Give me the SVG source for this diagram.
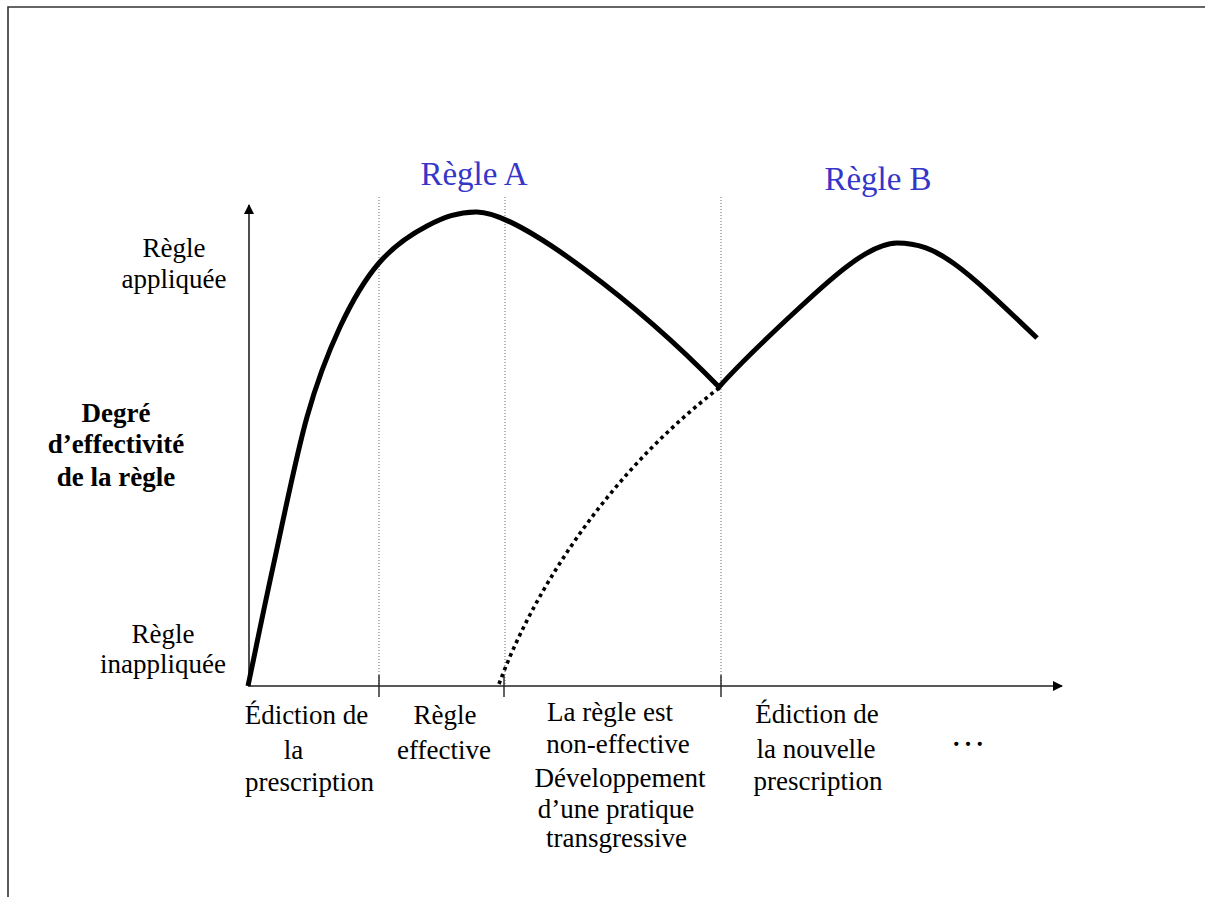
<svg xmlns="http://www.w3.org/2000/svg" width="1205" height="897" viewBox="0 0 1205 897">
<style>
text{font-family:"Liberation Serif","Times New Roman",serif;font-size:27px;fill:#000;text-anchor:middle}
.bold{font-weight:bold}
.title{font-size:33px;fill:#3535C8}
.axis{stroke:#222;stroke-width:1.6;fill:none}
.guide{stroke:#666;stroke-width:1;stroke-dasharray:1 2;fill:none}
.tick{stroke:#222;stroke-width:1.4}
.curve{stroke:#000;stroke-width:5;fill:none;stroke-linejoin:miter}
.dots{stroke:#000;stroke-width:3.6;fill:none;stroke-dasharray:3.6 3.8}
</style>
<defs>
<marker id="arr" viewBox="0 0 10 10" refX="9" refY="5" markerWidth="10" markerHeight="10" markerUnits="userSpaceOnUse" orient="auto">
<path d="M0,0 L10,5 L0,10 Z" fill="#000"/>
</marker>
</defs>
<rect width="1205" height="897" fill="#fff"/>
<path d="M8,897 V7 H1205" fill="none" stroke="#333" stroke-width="1.6"/>

<g id="guides">
<line class="guide" x1="379" y1="197" x2="379" y2="685"/>
<line class="guide" x1="505" y1="197" x2="505" y2="685"/>
<line class="guide" x1="721" y1="197" x2="721" y2="685"/>
</g>

<g id="axes">
<line class="axis" x1="249" y1="686" x2="249" y2="205" marker-end="url(#arr)"/>
<line class="axis" x1="248" y1="686" x2="1062" y2="686" marker-end="url(#arr)"/>
<line class="tick" x1="379" y1="675" x2="379" y2="697"/>
<line class="tick" x1="504" y1="675" x2="504" y2="697"/>
<line class="tick" x1="721" y1="675" x2="721" y2="697"/>
</g>

<g id="connectors">
<path id="curve-main" class="curve" d="M248,686 C256.3,646.3 263.2,611.8 273,567 C282.8,522.2 295.8,457 307,417 C318.2,377 328,352.7 340,327 C352,301.3 364.5,279.8 379,263 C393.5,246.2 410.7,234.5 427,226 C443.3,217.5 458.2,211.7 477,212 C520,212.3 640,306 719,387 C735,369 770,335 797,310 C826,283 868,243 897,243 C937,243 962,266 1037,338"/>
<path id="curve-practice" class="dots" d="M499,684 C530,600 600,480 719,388"/>
</g>

<g id="title-a"><text class="title" x="474" y="185">Règle A</text></g>
<g id="title-b"><text class="title" x="878" y="190">Règle B</text></g>

<g id="label-applied">
<text x="174" y="257">Règle</text>
<text x="174" y="288">appliquée</text>
</g>
<g id="label-y">
<text class="bold" x="116" y="422">Degré</text>
<text class="bold" x="116" y="453">d’effectivité</text>
<text class="bold" x="116" y="486">de la règle</text>
</g>
<g id="label-unapplied">
<text x="163" y="643">Règle</text>
<text x="163" y="673">inappliquée</text>
</g>

<g id="phase-1">
<text x="306.5" y="724">Édiction de</text>
<text x="293.5" y="759">la</text>
<text x="309.5" y="791">prescription</text>
</g>
<g id="phase-2">
<text x="445" y="724">Règle</text>
<text x="444" y="759">effective</text>
</g>
<g id="phase-3">
<text x="610" y="721">La règle est</text>
<text x="618" y="753">non-effective</text>
<text x="620" y="787">Développement</text>
<text x="616" y="818">d’une pratique</text>
<text x="616.5" y="847">transgressive</text>
</g>
<g id="phase-4">
<text x="817" y="723">Édiction de</text>
<text x="816" y="758">la nouvelle</text>
<text x="818" y="790">prescription</text>
</g>
<g id="phase-5">
<text x="968" y="746" style="font-size:35px">…</text>
</g>
</svg>
